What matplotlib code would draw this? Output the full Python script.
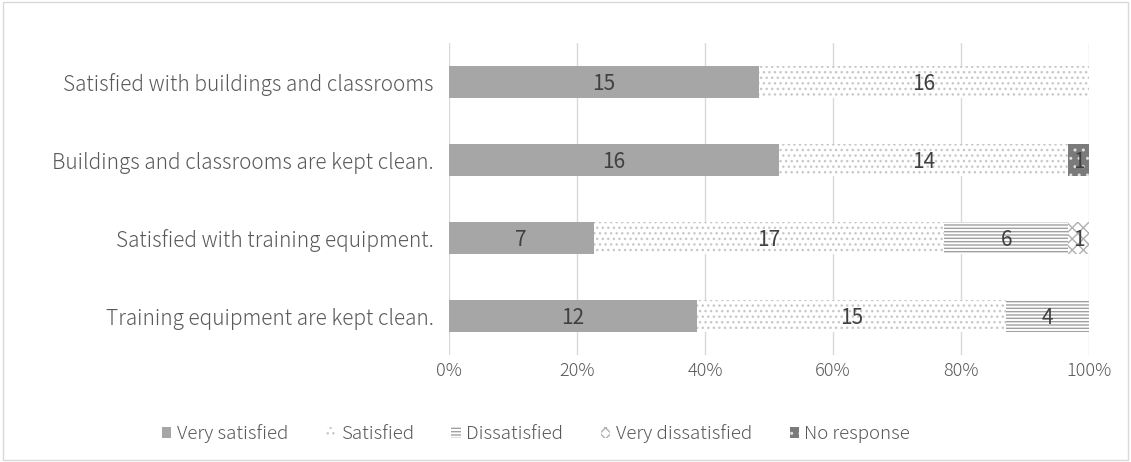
import matplotlib
matplotlib.use("Agg")
import matplotlib.pyplot as plt
import numpy as np

# data
questions = ["Satisfied with buildings and classrooms",
             "Buildings and classrooms are kept clean.",
             "Satisfied with training equipment.",
             "Training equipment are kept clean."]
series_names = ["Very satisfied", "Satisfied", "Dissatisfied", "Very dissatisfied", "No response"]
very_satisfied = [15, 16, 7, 12]
satisfied = [16, 14, 17, 15]
dissatisfied = [0, 0, 6, 4]
very_dissatisfied = [0, 0, 1, 0]
no_response = [0, 1, 0, 0]
x_ticks = [0, 20, 40, 60, 80, 100]

plt.rcParams['font.family'] = ['Noto Sans CJK JP', 'DejaVu Sans']
plt.rcParams['font.weight'] = 'light'
plt.rcParams['hatch.linewidth'] = 1.0

fig = plt.figure(figsize=(11.31, 4.62), dpi=100)
ax = fig.add_axes([449 / 1131, 1 - 355 / 462, 640 / 1131, 312 / 462])

data = np.array([very_satisfied, satisfied, dissatisfied, very_dissatisfied, no_response], dtype=float)
totals = data.sum(axis=0)
pct = data / totals * 100

styles = [
    dict(facecolor="#a6a6a6", edgecolor="#a6a6a6", hatch=None),
    dict(facecolor="white", edgecolor="#c8c8c8", hatch="..."),
    dict(facecolor="white", edgecolor="#a0a0a0", hatch="-----"),
    dict(facecolor="white", edgecolor="#b0b0b0", hatch="xxx"),
    dict(facecolor="#7a7a7a", edgecolor="#e0e0e0", hatch=".."),
]

y = np.arange(len(questions))
left = np.zeros(len(questions))
for i, name in enumerate(series_names):
    st = styles[i]
    bars = ax.barh(y, pct[i], left=left, height=0.41, label=name,
                   facecolor=st["facecolor"], edgecolor=st["edgecolor"],
                   hatch=st["hatch"], linewidth=0, zorder=2)
    for j, b in enumerate(bars):
        if data[i, j] > 0:
            ax.text(left[j] + pct[i, j] / 2, y[j] + 0.02, f"{int(data[i, j])}",
                    ha="center", va="center", fontsize=15, color="#404040",
                    fontweight="normal", zorder=3)
    left += pct[i]

ax.set_ylim(len(questions) - 0.5, -0.5)
ax.set_xlim(0, 100)
ax.set_yticks(y)
ax.set_yticklabels(questions, fontsize=15, color="#595959")
ax.set_xticks(x_ticks)
ax.set_xticklabels([f"{t}%" for t in x_ticks], fontsize=13, color="#595959")
ax.tick_params(axis="y", length=0, pad=11)
ax.tick_params(axis="x", length=0, pad=5)
ax.xaxis.grid(True, color="#d9d9d9", linewidth=1, zorder=0)
for s in ax.spines.values():
    s.set_visible(False)

leg = fig.legend(loc="center", bbox_to_anchor=(536 / 1131, 1 - 434 / 462), ncol=5,
                 frameon=False, fontsize=13.5, handlelength=0.5, handleheight=0.5,
                 handletextpad=0.3, columnspacing=2.0)
for t in leg.get_texts():
    t.set_color("#595959")

fig.patches.append(plt.Rectangle((0.003, 0.005), 0.994, 0.99, transform=fig.transFigure,
                                 fill=False, edgecolor="#d9d9d9", linewidth=1))

fig.savefig("out.png", dpi=100)
